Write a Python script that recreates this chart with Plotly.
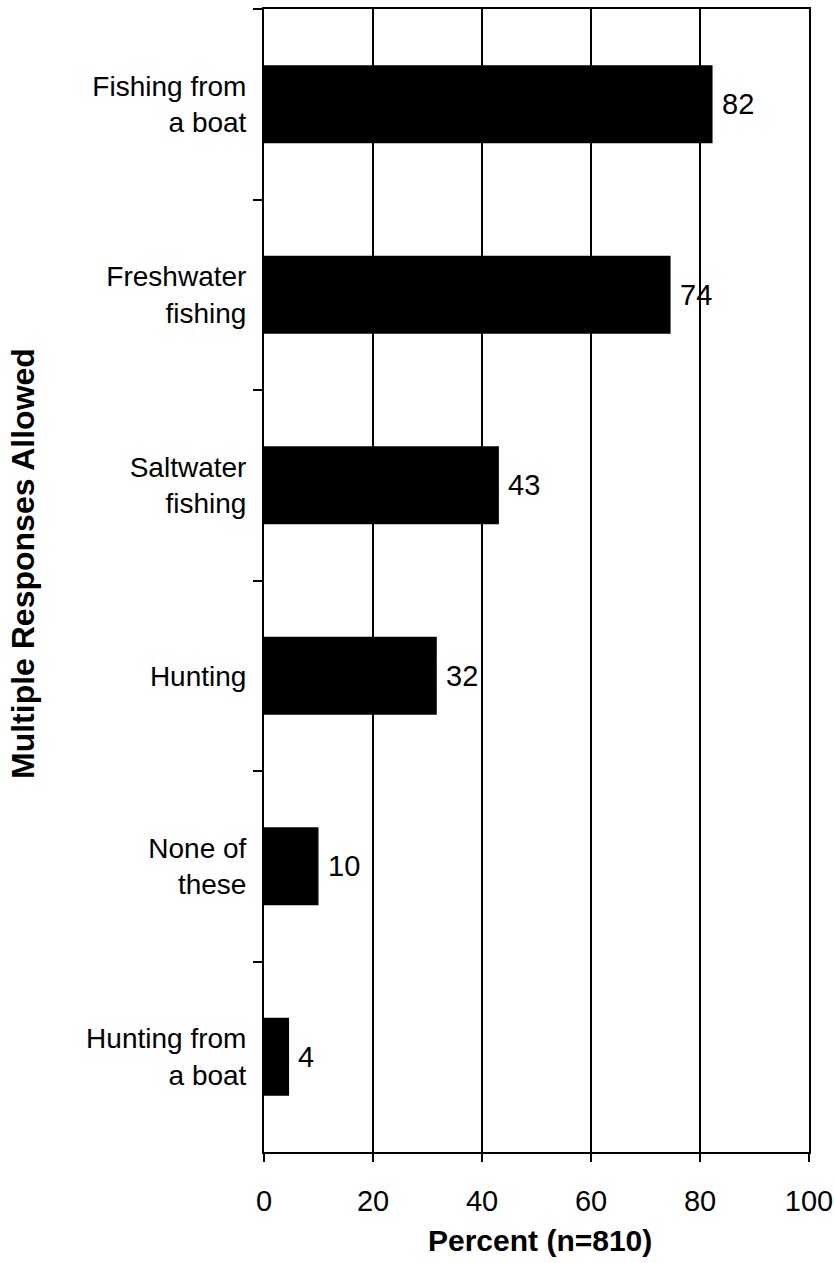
import plotly.graph_objects as go

categories = ["Fishing from<br>a boat", "Freshwater<br>fishing", "Saltwater<br>fishing",
              "Hunting", "None of<br>these", "Hunting from<br>a boat"]
values = [82.3, 74.6, 43.1, 31.7, 10.0, 4.6]
value_labels = ["82", "74", "43", "32", "10", "4"]
x_ticks = [0, 20, 40, 60, 80, 100]

FONT = "Liberation Sans, Arial, sans-serif"

fig = go.Figure()
fig.add_trace(go.Bar(
    x=values, y=categories, orientation="h",
    marker=dict(color="black", line=dict(width=0)),
    hoverinfo="x+y",
))

annotations = []
for c, v, t in zip(categories, values, value_labels):
    annotations.append(dict(x=v, y=c, xref="x", yref="y", text=t, showarrow=False,
                            xanchor="left", yanchor="middle", xshift=7,
                            font=dict(family=FONT, size=29, color="black")))

W, H = 834, 1263
L, R, T, B = 264, 25, 9, 111
pw, ph = W - L - R, H - T - B
annotations.append(dict(x=(23 - L) / pw, y=(H - B - 564) / ph, xref="paper", yref="paper",
                        text="<b>Multiple Responses Allowed</b>", textangle=-90, showarrow=False,
                        xanchor="center", yanchor="middle",
                        font=dict(family=FONT, size=32, color="black")))
annotations.append(dict(x=(540 - L) / pw, y=(H - B - 1240) / ph, xref="paper", yref="paper",
                        text="<b>Percent (n=810)</b>", showarrow=False,
                        xanchor="center", yanchor="middle",
                        font=dict(family=FONT, size=30, color="black")))

fig.update_layout(
    width=W, height=H,
    margin=dict(l=L, r=R, t=T, b=B, autoexpand=False),
    paper_bgcolor="white", plot_bgcolor="white",
    bargap=0.59,
    showlegend=False,
    font=dict(family=FONT, size=28, color="black"),
    annotations=annotations,
    xaxis=dict(range=[0, 100], tickvals=x_ticks, ticktext=[str(v) for v in x_ticks],
               showgrid=True, gridcolor="black", gridwidth=1.6,
               showline=True, linecolor="black", linewidth=2, mirror=True,
               ticks="outside", ticklen=8, tickwidth=2, tickcolor="black",
               ticklabelstandoff=14, zeroline=False,
               tickfont=dict(family=FONT, size=29, color="black")),
    yaxis=dict(categoryorder="array", categoryarray=categories, autorange="reversed",
               showgrid=False, showline=True, linecolor="black", linewidth=2, mirror=True,
               ticks="outside", ticklen=9, tickwidth=2, tickcolor="black",
               tickson="boundaries", ticklabelstandoff=10,
               tickfont=dict(family=FONT, size=28, color="black")),
)

fig.write_html("out.html", config={"displayModeBar": False},
               post_script="document.body.style.margin='0';document.body.style.overflow='hidden';")
